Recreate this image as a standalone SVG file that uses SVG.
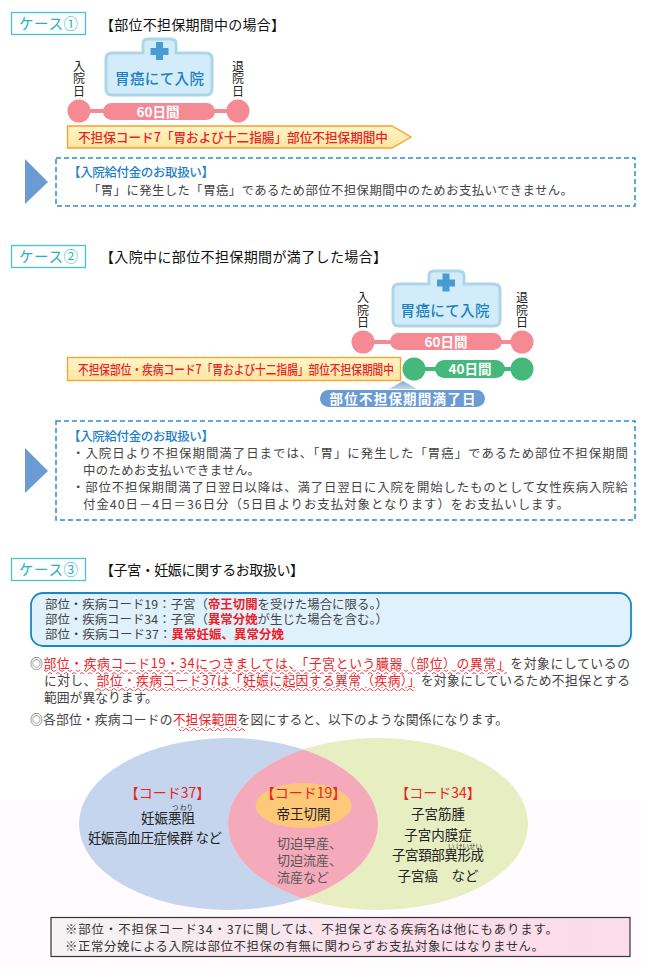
<svg xmlns="http://www.w3.org/2000/svg" width="660" height="980" viewBox="0 0 660 980">
<style>
text{font-family:"Noto Sans CJK JP","Liberation Sans",sans-serif;fill:#333}
.case{fill:#fff;stroke:#45c3d3;stroke-width:1.3}
.caset{font-size:14.5px;fill:#1fb3c3}
.title{font-size:14px;fill:#111}
.tag{fill:#d2edf9;stroke:#aed6ea;stroke-width:3}
.cross{fill:#4a9ad4}
.tagt{font-size:14.5px;fill:#1c7fc4;font-weight:500;text-anchor:middle}
.v{font-size:12px;fill:#222;text-anchor:middle}
.pk{fill:#f58a94}
.gr{fill:#45b97c}
.pt{font-size:13.5px;fill:#fff;font-weight:700;text-anchor:middle}
.dash{fill:#fff;stroke:#2a8fd0;stroke-width:1.5;stroke-dasharray:5 3}
.tri{fill:#6a9bd2}
.h{font-size:12.5px;fill:#1c80c8;font-weight:500}
.b{font-size:12.4px;fill:#444}
.r{fill:#f01c28}
.rb{fill:#f01c28;font-weight:700}
.red{font-size:12.6px;fill:#e8232a;font-weight:500}
.p{font-size:12.8px;fill:#444}
.vh{font-size:14px;fill:#e8232a;text-anchor:middle}
.vt{font-size:13.5px;fill:#222;text-anchor:middle}
.vg{font-size:13px;fill:#555}
.ru{font-size:6.5px;fill:#333}
.n{font-size:12.4px;fill:#333}
</style>
<defs>
<linearGradient id="arr" x1="0" y1="0" x2="0" y2="1"><stop offset="0" stop-color="#fff4c8"/><stop offset="1" stop-color="#ffe6a0"/></linearGradient>
<linearGradient id="nt" x1="0" y1="0" x2="1" y2="0"><stop offset="0" stop-color="#f5f4f4"/><stop offset="0.6" stop-color="#fadfea"/><stop offset="1" stop-color="#fbdce9"/></linearGradient>
<linearGradient id="mini" x1="0" y1="0" x2="0" y2="1"><stop offset="0" stop-color="#7ea9d8"/><stop offset="1" stop-color="#c5d8ee"/></linearGradient>
<pattern id="wave" width="8" height="4" patternUnits="userSpaceOnUse"><path d="M0 2Q2 -1 4 2T8 2" fill="none" stroke="#f0303a" stroke-width="0.9"/></pattern>
<clipPath id="lc"><ellipse cx="228.5" cy="824" rx="149.5" ry="86"/></clipPath>
</defs>
<rect id="pagebg" x="0" y="800" width="642" height="168" fill="#fffbfe"/>

<g id="case1">
<g id="case1-label"><rect class="case" x="11.500" y="12.500" width="74" height="22"/><text class="caset" x="19" y="29" textLength="59">ケース①</text></g>
<text class="title" x="100" y="29.500" textLength="185">【部位不担保期間中の場合】</text>
<g id="case1-tag"><path class="tag" d="M143 53V44Q143 39 148 39H171Q176 39 176 44V53H206Q212 53 212 59V89Q212 95 206 95H112Q106 95 106 89V59Q106 53 112 53Z"/><path class="cross" d="M156 42h7v6h5.500v7h-5.500v5h-7v-5h-5.500v-7h5.500z"/><text class="tagt" x="159.500" y="84" textLength="89">胃癌にて入院</text></g>
<text class="v" x="79" y="70.500">入<tspan x="79" dy="12.500">院</tspan><tspan x="79" dy="12.500">日</tspan></text>
<text class="v" x="238" y="70.500">退<tspan x="238" dy="12.500">院</tspan><tspan x="238" dy="12.500">日</tspan></text>
<g id="case1-conn"><line x1="79" y1="111" x2="238" y2="111" stroke="#f58a94" stroke-width="4"/></g>
<g id="case1-start"><circle class="pk" cx="79" cy="111" r="11.500"/></g>
<g id="case1-end"><circle class="pk" cx="238" cy="111" r="11.500"/></g>
<g id="case1-days"><rect class="pk" x="103" y="103" width="112" height="17" rx="8.500"/><text class="pt" x="158" y="116.500">60日間</text></g>
<g id="case1-bar"><path d="M67.500 126H392L411 137L392 148H67.500Z" fill="url(#arr)" stroke="#f9a030" stroke-width="1.300"/><text class="red" x="78" y="142" textLength="310" lengthAdjust="spacingAndGlyphs">不担保コード7「胃および十二指腸」部位不担保期間中</text></g>
<g id="case1-note"><path class="tri" d="M25 159L48 182L25 204Z"/><rect class="dash" x="56" y="158" width="579" height="48"/>
<text class="h" x="68" y="177" textLength="146">【入院給付金のお取扱い】</text>
<text class="b" x="88" y="194.500" textLength="485">「胃」に発生した「胃癌」であるため部位不担保期間中のためお支払いできません。</text></g>
</g>

<g id="case2">
<g id="case2-label"><rect class="case" x="11.500" y="245.500" width="74" height="22"/><text class="caset" x="19" y="262" textLength="59">ケース②</text></g>
<text class="title" x="100" y="262" textLength="287">【入院中に部位不担保期間が満了した場合】</text>
<g id="case2-tag"><path class="tag" d="M429 284V276Q429 271 434 271H459Q464 271 464 276V284H494Q500 284 500 290V320Q500 326 494 326H399Q393 326 393 320V290Q393 284 399 284Z"/><path class="cross" d="M442.500 273.500h7v6h5.500v7h-5.500v5h-7v-5h-5.500v-7h5.500z"/><text class="tagt" x="445" y="316" textLength="89">胃癌にて入院</text></g>
<text class="v" x="363" y="302">入<tspan x="363" dy="12.500">院</tspan><tspan x="363" dy="12.500">日</tspan></text>
<text class="v" x="522" y="302">退<tspan x="522" dy="12.500">院</tspan><tspan x="522" dy="12.500">日</tspan></text>
<g id="case2-conn"><line x1="363" y1="342" x2="522" y2="342" stroke="#f58a94" stroke-width="4"/><line x1="414" y1="369" x2="522" y2="369" stroke="#45b97c" stroke-width="4"/></g>
<g id="case2-start"><circle class="pk" cx="363" cy="342" r="11.500"/></g>
<g id="case2-end"><circle class="pk" cx="522" cy="342" r="11.500"/></g>
<g id="case2-days60"><rect class="pk" x="390" y="333" width="112" height="17" rx="8.500"/><text class="pt" x="446" y="347">60日間</text></g>
<g id="case2-gstart"><circle class="gr" cx="414" cy="369" r="11.500"/></g>
<g id="case2-gend"><circle class="gr" cx="522" cy="369" r="11.500"/></g>
<g id="case2-days40"><rect class="gr" x="435" y="360" width="70" height="18" rx="9"/><text class="pt" x="470" y="374">40日間</text></g>
<g id="case2-bar"><rect x="67.500" y="357.500" width="333" height="23" fill="url(#arr)" stroke="#f9a030" stroke-width="1.300"/><text class="red" x="78" y="374" textLength="316" lengthAdjust="spacingAndGlyphs">不担保部位・疾病コード7「胃および十二指腸」部位不担保期間中</text></g>
<g id="case2-expiry"><path d="M403 381L417 389H389Z" fill="url(#mini)"/><rect class="tri" x="320" y="390" width="165" height="17" rx="8.500"/><text class="pt" x="402.500" y="403.500" textLength="146">部位不担保期間満了日</text></g>
<g id="case2-note"><path class="tri" d="M25 448L48 471L25 493Z"/><rect class="dash" x="56" y="421" width="579" height="99"/>
<text class="h" x="68" y="441" textLength="146">【入院給付金のお取扱い】</text>
<text class="b" x="72" y="458" textLength="556">・入院日より不担保期間満了日までは、「胃」に発生した「胃癌」であるため部位不担保期間</text>
<text class="b" x="83" y="475" textLength="177">中のためお支払いできません。</text>
<text class="b" x="72" y="492" textLength="556">・部位不担保期間満了日翌日以降は、満了日翌日に入院を開始したものとして女性疾病入院給</text>
<text class="b" x="83" y="509" textLength="486">付金40日－4日＝36日分（5日目よりお支払対象となります）をお支払いします。</text></g>
</g>

<g id="case3">
<g id="case3-label"><rect class="case" x="11.500" y="558.500" width="74" height="22"/><text class="caset" x="19" y="575" textLength="59">ケース③</text></g>
<text class="title" x="100" y="574.500" textLength="204">【子宮・妊娠に関するお取扱い】</text>
<g id="case3-codes"><rect x="31" y="593" width="600" height="53" rx="12" fill="#dff1fc" stroke="#1a86c8" stroke-width="1.800"/>
<text class="b" x="45" y="609" textLength="343">部位・疾病コード19：子宮（<tspan class="rb">帝王切開</tspan>を受けた場合に限る。）</text>
<text class="b" x="45" y="624" textLength="343">部位・疾病コード34：子宮（<tspan class="rb">異常分娩</tspan>が生じた場合を含む。）</text>
<text class="b" x="45" y="639" textLength="239">部位・疾病コード37：<tspan class="rb">異常妊娠、異常分娩</tspan></text></g>
<g id="case3-text">
<text class="p" x="30" y="668" textLength="600">◎<tspan class="r">部位・疾病コード19・34につきましては、「子宮という臓器（部位）の異常」</tspan>を対象にしているの</text>
<text class="p" x="44" y="685" textLength="586">に対し、<tspan class="r">部位・疾病コード37は「妊娠に起因する異常（疾病）」</tspan>を対象にしているため不担保とする</text>
<text class="p" x="44" y="702">範囲が異なります。</text>
<text class="p" x="30" y="724" textLength="478">◎各部位・疾病コードの<tspan class="r">不担保範囲</tspan>を図にすると、以下のような関係になります。</text>
<rect x="44" y="670" width="463" height="4" fill="url(#wave)"/>
<rect x="95" y="687" width="320" height="4" fill="url(#wave)"/>
<rect x="179" y="727" width="66" height="4" fill="url(#wave)"/>
</g>
<g id="venn">
<ellipse id="code37" cx="228.500" cy="824" rx="149.500" ry="86" fill="#c5d5ee"/>
<ellipse id="code34" cx="378" cy="824" rx="150" ry="86" fill="#e6eec2"/>
<ellipse id="overlap" cx="378" cy="824" rx="150" ry="86" fill="#f5aabb" clip-path="url(#lc)"/>
<ellipse id="code19" cx="303.500" cy="805.500" rx="48" ry="22.500" fill="#fdc878"/>
<text class="vh" x="167.500" y="798">【コード37】</text>
<text class="ru" x="172" y="810">つ わり</text>
<text class="vt" x="168" y="823">妊娠悪阻</text>
<text class="vt" x="155" y="843" textLength="134">妊娠高血圧症候群 など</text>
<text class="vh" x="303.500" y="798">【コード19】</text>
<text class="vt" x="303.500" y="819">帝王切開</text>
<text class="vg" x="277" y="848">切迫早産、</text>
<text class="vg" x="277" y="865">切迫流産、</text>
<text class="vg" x="277" y="882">流産など</text>
<text class="vh" x="438" y="798">【コード34】</text>
<text class="vt" x="438" y="819">子宮筋腫</text>
<text class="vt" x="438" y="840">子宮内膜症</text>
<text class="ru" x="448" y="849">い けいせい</text>
<text class="vt" x="438" y="860" textLength="92">子宮頚部異形成</text>
<text class="vt" x="438" y="881">子宮癌　など</text>
</g>
<g id="footnote"><rect x="51" y="917.500" width="579" height="39" fill="url(#nt)" stroke="#333" stroke-width="1.200"/>
<text class="n" x="65" y="934" textLength="493">※部位・不担保コード34・37に関しては、不担保となる疾病名は他にもあります。</text>
<text class="n" x="65" y="951" textLength="479">※正常分娩による入院は部位不担保の有無に関わらずお支払対象にはなりません。</text></g>
</g>
</svg>
